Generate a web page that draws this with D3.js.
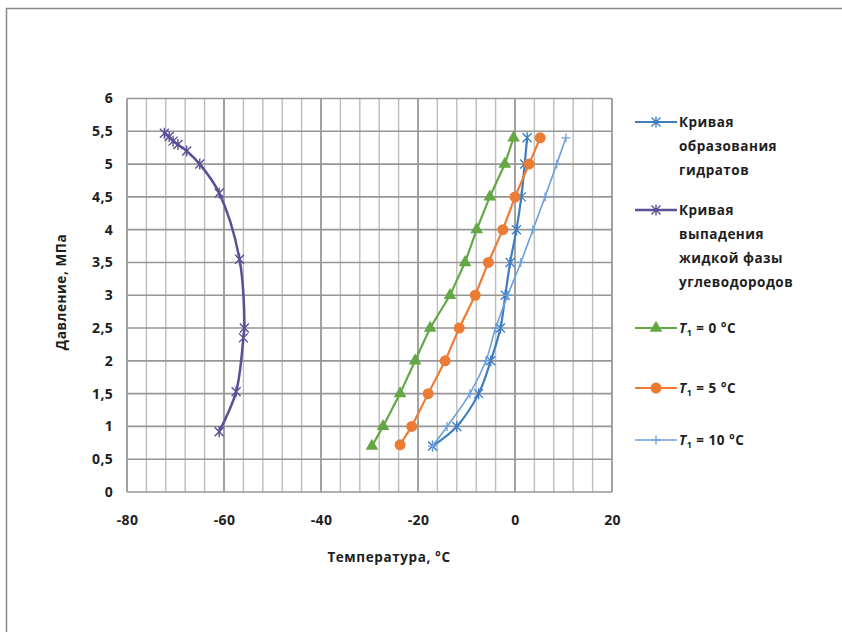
<!DOCTYPE html>
<meta charset="utf-8">
<style>
body { margin: 0; background: #fff; }
text { font-family: "Open Sans", "Liberation Sans", sans-serif; fill: #1e1e1e; }
.tick text { font-size: 14px; font-weight: 700; letter-spacing: 0.3px; }
.legend text { font-size: 13.5px; font-weight: 700; letter-spacing: 0.5px; }
.axis-title { font-size: 13.5px; font-weight: 700; letter-spacing: 0.6px; }
</style>
<body>
<script src="https://d3js.org/d3.v7.min.js"></script>
<script>

// ---- data: [temperature °C, pressure MPa] ----
var hydrateCurve = [[-17, 0.7], [-12, 1.0], [-7.5, 1.5], [-5, 2.0], [-3, 2.5], [-2, 3.0],
                    [-1, 3.5], [0.3, 4.0], [1.3, 4.5], [2, 5.0], [2.5, 5.4]];
var condensateCurve = [[-61, 0.92], [-57.5, 1.53], [-56, 2.35], [-55.8, 2.5], [-56.8, 3.55],
                       [-61, 4.56], [-65, 5.0], [-67.7, 5.2], [-69.5, 5.3], [-70.5, 5.35],
                       [-71.3, 5.42], [-72.3, 5.47]];
var t1_0 = [[-29.5, 0.7], [-27.2, 1.0], [-23.7, 1.5], [-20.6, 2.0], [-17.5, 2.5], [-13.4, 3.0],
            [-10.3, 3.5], [-7.9, 4.0], [-5.2, 4.5], [-2.1, 5.0], [-0.3, 5.4]];
var t1_5 = [[-23.7, 0.72], [-21.3, 1.0], [-17.9, 1.5], [-14.4, 2.0], [-11.5, 2.5], [-8.2, 3.0],
            [-5.5, 3.5], [-2.5, 4.0], [0, 4.5], [2.9, 5.0], [5.2, 5.4]];
var t1_10 = [[-17, 0.7], [-14, 1.0], [-9.3, 1.5], [-6, 2.0], [-4, 2.5], [-1.5, 3.0],
             [1.2, 3.5], [3.7, 4.0], [6.2, 4.5], [8.6, 5.0], [10.5, 5.4]];

var xTicks = [-80, -60, -40, -20, 0, 20];
var yTicks = [0, 0.5, 1, 1.5, 2, 2.5, 3, 3.5, 4, 4.5, 5, 5.5, 6];

var seriesNames = [["Кривая", "образования", "гидратов"],
                   ["Кривая", "выпадения", "жидкой фазы", "углеводородов"],
                   "0", "5", "10"];

// series styling
var series = [
  {data: hydrateCurve, color: "#3f7dc3", marker: "star", width: 2.2, smooth: true},
  {data: condensateCurve, color: "#5b4f96", marker: "star", width: 2.5, smooth: true},
  {data: t1_0, color: "#63a845", marker: "triangle", width: 2.2, smooth: false},
  {data: t1_5, color: "#ec7c34", marker: "circle", width: 2.2, smooth: false},
  {data: t1_10, color: "#6d9fdb", marker: "plus", width: 1.6, smooth: true}
];

var W = 842, H = 632;
var plot = {left: 127, right: 612, top: 98.5, bottom: 492};

var svg = d3.select("body").append("svg")
    .attr("width", W).attr("height", H);

// outer frame
svg.append("rect")
    .attr("x", 6.5).attr("y", 8.5)
    .attr("width", W + 10).attr("height", H + 10)
    .attr("fill", "none").attr("stroke", "#8a8a8a").attr("stroke-width", 1.5);

var x = d3.scaleLinear().domain([-80, 20]).range([plot.left, plot.right]);
var y = d3.scaleLinear().domain([0, 6]).range([plot.bottom, plot.top]);

// minor vertical grid every 4 degrees
svg.append("g").selectAll("line")
    .data(d3.range(-80, 21, 4))
    .join("line")
    .attr("x1", d => x(d)).attr("x2", d => x(d))
    .attr("y1", plot.top).attr("y2", plot.bottom)
    .attr("stroke", "#bdbdbd").attr("stroke-width", 1.4);

// major vertical grid
svg.append("g").selectAll("line")
    .data(xTicks)
    .join("line")
    .attr("x1", d => x(d)).attr("x2", d => x(d))
    .attr("y1", plot.top).attr("y2", plot.bottom)
    .attr("stroke", "#969696").attr("stroke-width", 1.6);

// horizontal grid
svg.append("g").selectAll("line")
    .data(yTicks)
    .join("line")
    .attr("x1", plot.left).attr("x2", plot.right)
    .attr("y1", d => y(d)).attr("y2", d => y(d))
    .attr("stroke", "#969696").attr("stroke-width", 1.6);

// axes (labels only, grid draws the lines)
var ru = d3.formatLocale({decimal: ",", thousands: " ", grouping: [3], currency: ["", ""]});

var xAxis = svg.append("g")
    .attr("transform", "translate(0," + plot.bottom + ")")
    .call(d3.axisBottom(x).tickValues(xTicks).tickSize(0).tickPadding(23).tickFormat(d3.format("d")));
xAxis.select(".domain").remove();
xAxis.selectAll("text").text(d => d < 0 ? "-" + Math.abs(d) : d);

var yAxis = svg.append("g")
    .attr("transform", "translate(" + plot.left + ",0)")
    .call(d3.axisLeft(y).tickValues(yTicks).tickSize(0).tickPadding(14).tickFormat(ru.format("")));
yAxis.select(".domain").remove();

// axis titles
svg.append("text").attr("class", "axis-title")
    .attr("x", 389).attr("y", 562)
    .attr("text-anchor", "middle")
    .text("Температура, °C");

svg.append("text").attr("class", "axis-title")
    .attr("transform", "translate(66,292) rotate(-90)")
    .attr("text-anchor", "middle")
    .text("Давление, МПа");

// marker drawing
function drawMarker(g, type, color, size) {
  var s = size || 5;
  if (type === "star") {
    g.append("path")
      .attr("d", "M" + (-s) + "," + (-s) + "L" + s + "," + s +
                 "M" + (-s) + "," + s + "L" + s + "," + (-s) +
                 "M0," + (-s - 1) + "L0," + (s + 1))
      .attr("stroke", color).attr("stroke-width", 1.4).attr("fill", "none");
  } else if (type === "plus") {
    g.append("path")
      .attr("d", "M" + (-s) + ",0L" + s + ",0M0," + (-s) + "L0," + s)
      .attr("stroke", color).attr("stroke-width", 1.3).attr("fill", "none");
  } else if (type === "triangle") {
    g.append("path")
      .attr("d", d3.symbol(d3.symbolTriangle, 70)())
      .attr("fill", color);
  } else if (type === "circle") {
    g.append("circle").attr("r", 5.5).attr("fill", color);
  }
}

var marks = svg.append("g");

series.forEach(function(s) {
  var line = d3.line()
      .x(d => x(d[0]))
      .y(d => y(d[1]))
      .curve(s.smooth ? d3.curveCatmullRom.alpha(0.5) : d3.curveLinear);

  marks.append("path")
      .datum(s.data)
      .attr("fill", "none")
      .attr("stroke", s.color)
      .attr("stroke-width", s.width)
      .attr("d", line);

  marks.append("g").selectAll("g")
      .data(s.data)
      .join("g")
      .attr("transform", d => "translate(" + x(d[0]) + "," + y(d[1]) + ")")
      .each(function() { drawMarker(d3.select(this), s.marker, s.color, 4.5); });
});

// legend
var legendY = [122, 210, 328, 388, 440];
var legend = svg.append("g").attr("class", "legend");

series.forEach(function(s, i) {
  var g = legend.append("g").attr("transform", "translate(0," + legendY[i] + ")");
  g.append("line")
      .attr("x1", 635).attr("x2", 677).attr("y1", 0).attr("y2", 0)
      .attr("stroke", s.color).attr("stroke-width", s.width);
  var m = g.append("g").attr("transform", "translate(656,0)");
  drawMarker(m, s.marker, s.color, 4.5);

  var name = seriesNames[i];
  var t = g.append("text").attr("x", 679).attr("y", 5);
  if (Array.isArray(name)) {
    name.forEach(function(line, k) {
      t.append("tspan").attr("x", 679).attr("dy", k === 0 ? 0 : 24).text(line);
    });
  } else {
    t.append("tspan").attr("font-style", "italic").text("T");
    t.append("tspan").attr("font-size", "9px").attr("dy", 3).text("1");
    t.append("tspan").attr("dy", -3).text(" = " + name + " °C");
  }
});

</script>
</body>
